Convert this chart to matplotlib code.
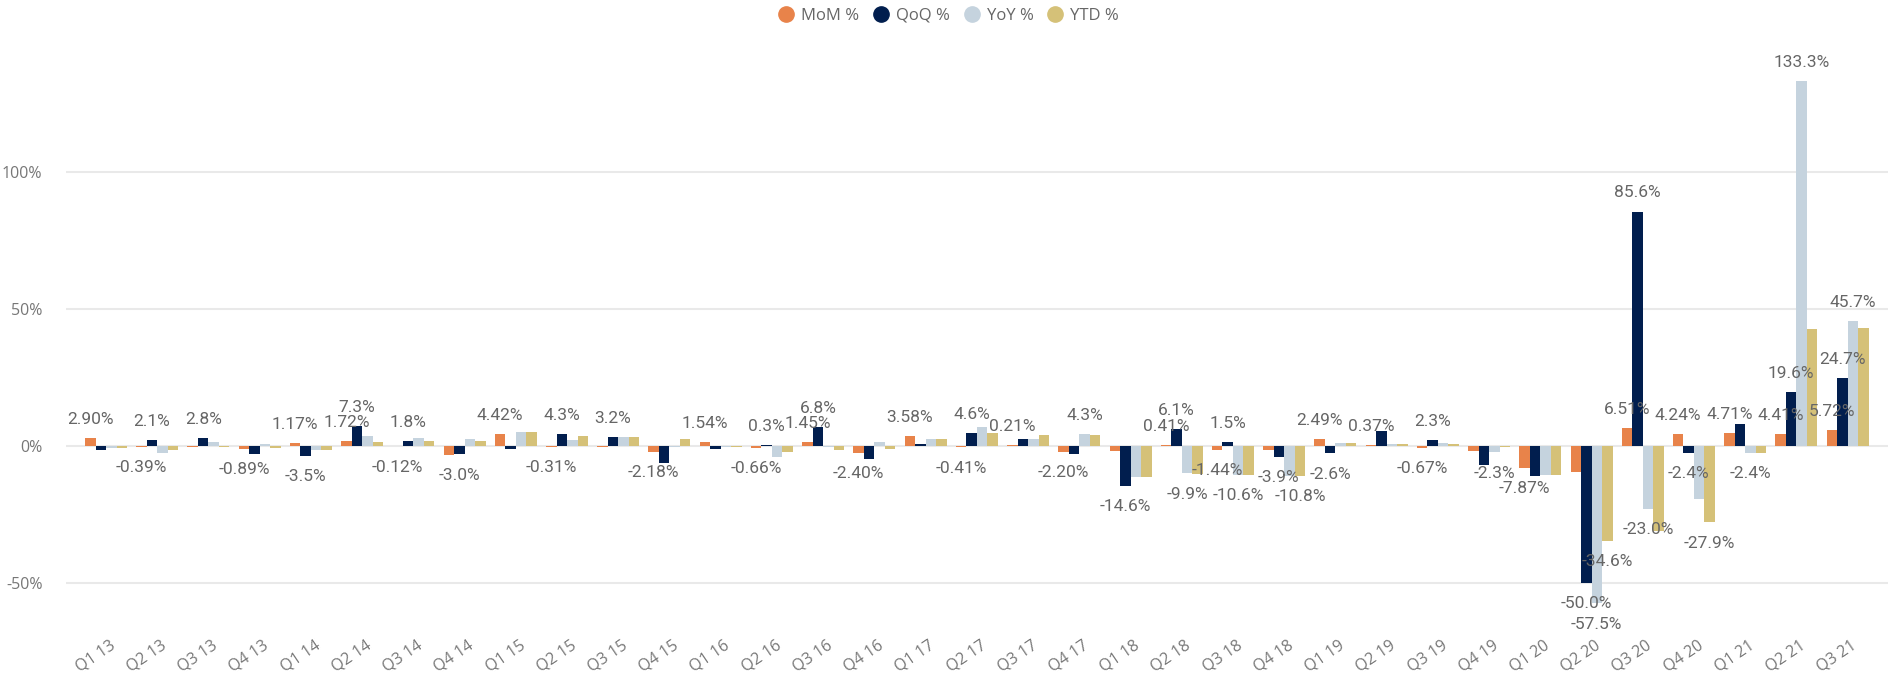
import numpy as np
import matplotlib.pyplot as plt
from matplotlib.lines import Line2D

quarters = ["Q1 13", "Q2 13", "Q3 13", "Q4 13", "Q1 14", "Q2 14", "Q3 14", "Q4 14",
            "Q1 15", "Q2 15", "Q3 15", "Q4 15", "Q1 16", "Q2 16", "Q3 16", "Q4 16",
            "Q1 17", "Q2 17", "Q3 17", "Q4 17", "Q1 18", "Q2 18", "Q3 18", "Q4 18",
            "Q1 19", "Q2 19", "Q3 19", "Q4 19", "Q1 20", "Q2 20", "Q3 20", "Q4 20",
            "Q1 21", "Q2 21", "Q3 21"]

mom = [2.90, -0.39, -0.5, -0.89, 1.17, 1.72, -0.12, -3.2,
       4.42, -0.31, -0.4, -2.18, 1.54, -0.66, 1.45, -2.40,
       3.58, -0.41, 0.21, -2.20, -1.7, 0.41, -1.44, -1.3,
       2.49, 0.37, -0.67, -1.7, -7.87, -9.4, 6.51, 4.24,
       4.71, 4.41, 5.72]
qoq = [-1.5, 2.1, 2.8, -2.8, -3.5, 7.3, 1.8, -3.0,
       -1.1, 4.3, 3.2, -6.1, -1.0, 0.3, 6.8, -4.7,
       0.7, 4.6, 2.6, -2.8, -14.6, 6.1, 1.5, -3.9,
       -2.6, 5.5, 2.3, -7.0, -10.8, -50.0, 85.6, -2.4,
       8.0, 19.6, 24.7]
yoy = [-0.6, -2.4, 1.5, 0.7, -1.4, 3.7, 2.9, 2.6,
       5.1, 2.2, 3.3, -0.5, -0.5, -4.0, -0.5, 1.4,
       2.6, 6.9, 2.6, 4.3, -11.2, -9.9, -10.6, -10.8,
       1.1, 0.7, 1.1, -2.3, -10.6, -57.5, -23.0, -19.3,
       -2.4, 133.3, 45.7]
ytd = [-0.6, -1.5, -0.5, -0.6, -1.4, 1.5, 1.8, 1.8,
       5.1, 3.7, 3.3, 2.6, -0.5, -2.1, -1.3, -1.0,
       2.6, 4.8, 4.0, 4.0, -11.2, -10.3, -10.6, -10.8,
       1.1, 0.7, 0.7, -0.5, -10.6, -34.6, -31.0, -27.9,
       -2.4, 42.8, 43.2]

# which series carry a data label in each quarter (M=MoM, Q=QoQ, Y=YoY, T=YTD)
shown = ["M", "MQ", "Q", "M", "MQ", "MQ", "MQ", "Q",
         "M", "MQ", "Q", "M", "M", "MQ", "MQ", "M",
         "M", "MQ", "M", "MY", "Q", "MQY", "MQY", "QT",
         "MQ", "M", "MQ", "Y", "M", "QYT", "MQY", "MQT",
         "MY", "MQY", "MQY"]

series = [("M", "MoM %", mom, "#E8834A", "{:.2f}%"),
          ("Q", "QoQ %", qoq, "#011E4E", "{:.1f}%"),
          ("Y", "YoY %", yoy, "#C5D3DE", "{:.1f}%"),
          ("T", "YTD %", ytd, "#D5C178", "{:.1f}%")]

fig = plt.figure(figsize=(18.98, 6.76), dpi=100)
ax = fig.add_axes([0.0348, 0.0607, 0.96, 0.895])

x = np.arange(len(quarters))
w = 0.205
for i, (key, name, vals, col, fmt) in enumerate(series):
    xs = x + (i - 1.5) * w
    ax.bar(xs, vals, width=w, color=col, zorder=2)
    for xi, v, s in zip(xs, vals, shown):
        if key not in s:
            continue
        off = 13.5 if v >= 0 else -15
        ax.annotate(fmt.format(v), (xi, v), xytext=(0, off), textcoords="offset points",
                    ha="center", va="center", fontsize=12.5, color="#666666",
                    family="Roboto", zorder=3)

ax.set_xlim(-0.78, len(quarters) - 0.21)
ax.set_ylim(-69, 152)
ax.set_yticks([-50, 0, 50, 100])
ax.set_yticklabels(["-50%", "0%", "50%", "100%"])
ax.yaxis.grid(True, color="#E9E9E9", linewidth=1.5, zorder=0)
ax.set_axisbelow(True)
for sp in ax.spines.values():
    sp.set_visible(False)
ax.tick_params(axis="y", length=0, pad=17, labelsize=11.5, labelcolor="#777777")
ax.tick_params(axis="x", length=0, pad=2, labelsize=11.5, labelcolor="#777777")
for lab in ax.get_yticklabels():
    lab.set_family("Open Sans")

ax.set_xticks(x + 0.06)
ax.set_xticklabels(quarters, rotation=34, ha="right", va="top",
                   rotation_mode="anchor", family="Open Sans")

handles = [Line2D([], [], marker="o", linestyle="", markersize=11,
                  markerfacecolor=s[3], markeredgecolor=s[3]) for s in series]
fig.legend(handles, [s[1] for s in series], loc="center", bbox_to_anchor=(0.4976, 0.977),
           ncol=4, frameon=False, handletextpad=-0.1, columnspacing=0.3,
           prop={"family": "Open Sans", "size": 12}, labelcolor="#666666")

plt.savefig("out.png", dpi=100)
plt.close()
